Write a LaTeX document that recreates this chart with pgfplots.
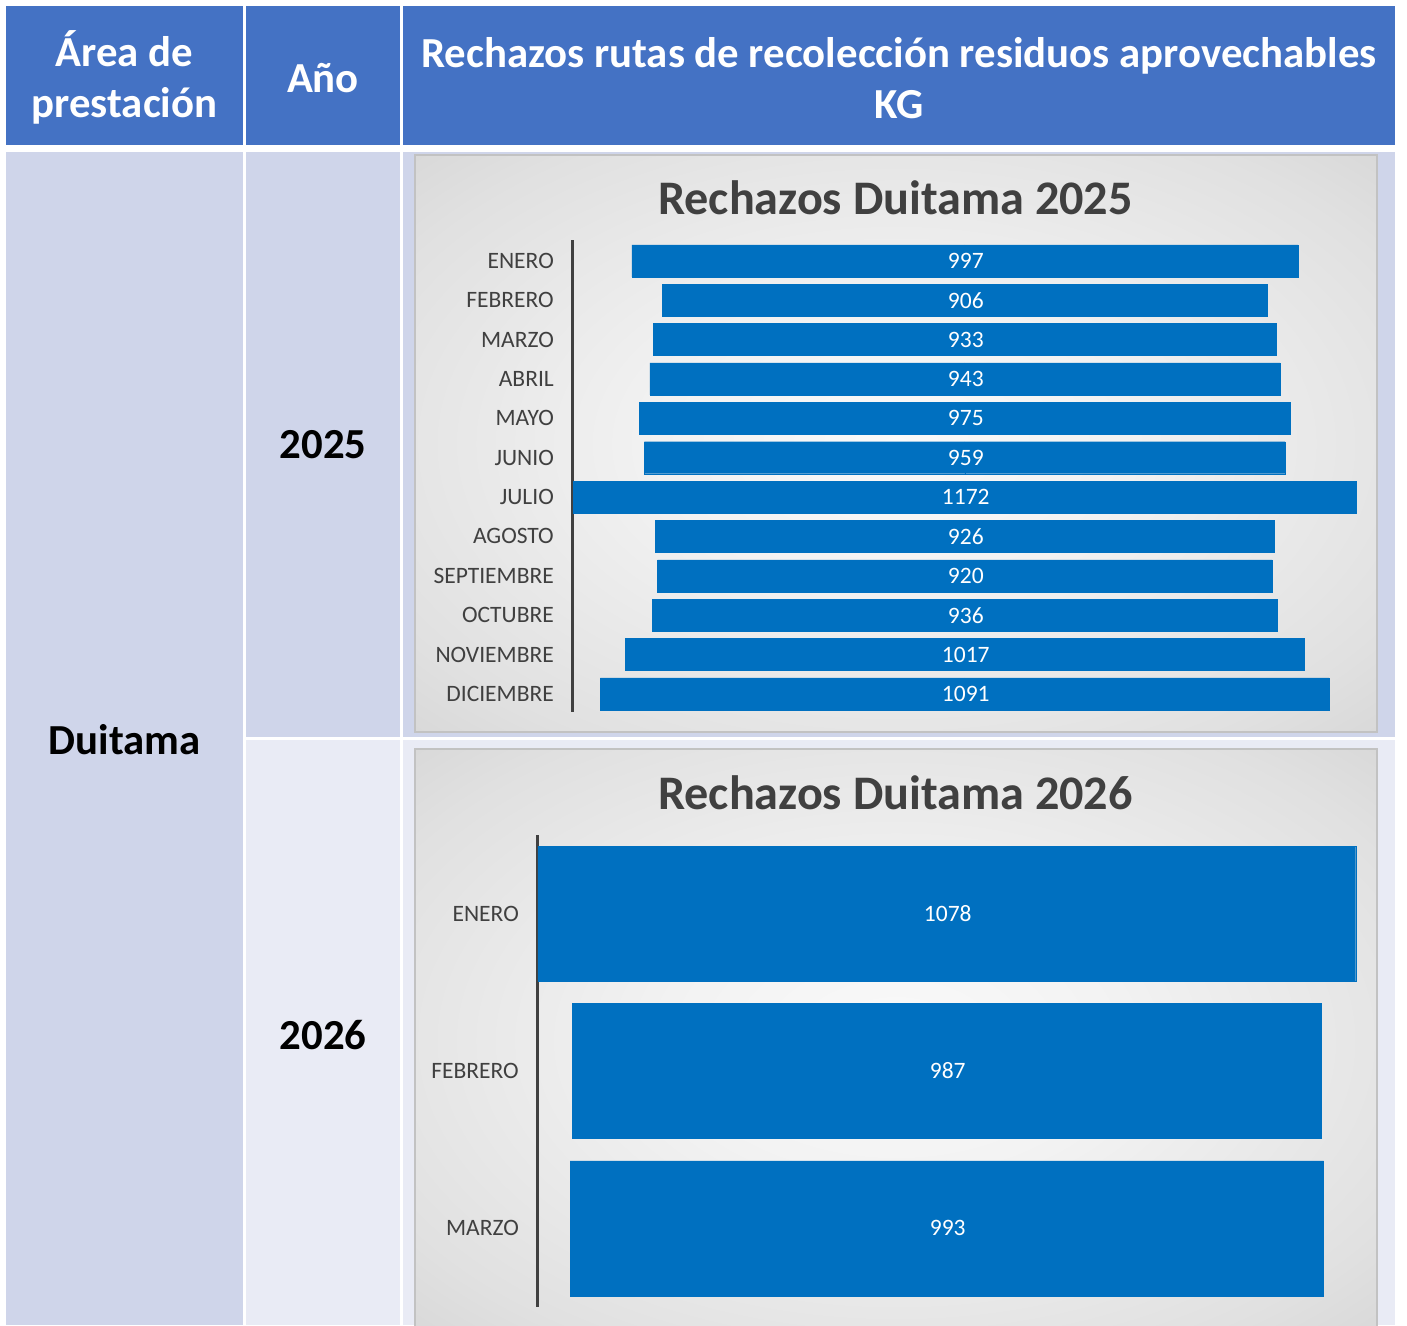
\documentclass[border=0pt]{standalone}
\usepackage{pgfplots}
\usepackage{pgfplotstable}
\pgfplotsset{compat=1.18}
\usepackage{fontspec}
\setmainfont{Carlito}
\definecolor{hdr}{HTML}{4472C4}
\definecolor{rowA}{HTML}{CFD5EA}
\definecolor{rowB}{HTML}{E9EBF5}
\definecolor{barblue}{HTML}{0070C0}
\definecolor{labelgray}{HTML}{404040}
\definecolor{panelborder}{HTML}{C2C2C2}
\pgfdeclareradialshading{panel}{\pgfpoint{0bp}{0bp}}{color(0bp)=(white!98!black); color(12bp)=(white!95!black); color(30bp)=(white!88!black); color(50bp)=(white!77!black); color(71bp)=(white!73!black)}
\newcommand\hdrfont{\fontsize{42.8}{51}\selectfont\bfseries}
\newcommand\titlefont{\fontsize{48.2}{56}\selectfont\bfseries}
\newcommand\catfont{\fontsize{23.5}{28}\selectfont}
\pgfplotstableread{
i v
0 997
1 906
2 933
3 943
4 975
5 959
6 1172
7 926
8 920
9 936
10 1017
11 1091
}\dataA
\pgfplotstableread{
i v
0 1078
1 987
2 993
}\dataB
\begin{document}
\begin{tikzpicture}
\useasboundingbox (0pt,0pt) rectangle (1407pt,-1325pt);
\clip (0pt,0pt) rectangle (1407pt,-1325pt);
\begin{scope}[x=1pt,y=-1pt]
 \fill[white] (0,0) rectangle (1407,1325);
 % header
 \fill[hdr] (6,6) rectangle (243,145);
 \fill[hdr] (246,6) rectangle (400,145);
 \fill[hdr] (403,6) rectangle (1395,145);
 % body
 \fill[rowA] (6,152) rectangle (243,1325);
 \fill[rowA] (246,152) rectangle (400,737);
 \fill[rowB] (246,740) rectangle (400,1325);
 \fill[rowA] (403,152) rectangle (1395,737);
 \fill[rowB] (403,740) rectangle (1395,1325);
 % panels
 \shade[shading=panel] (415,155) rectangle (1377,732);
 \draw[panelborder, line width=2pt] (415,155) rectangle (1377,732);
 \shade[shading=panel] (415,749) rectangle (1377,1332);
 \draw[panelborder, line width=2pt] (415,749) rectangle (1377,1332);
 % header texts
 \node[anchor=base, text=white, font=\hdrfont, inner sep=0pt] at (124.5,66.7) {Área de};
 \node[anchor=base, text=white, font=\hdrfont, inner sep=0pt] at (124.5,117.5) {prestación};
 \node[anchor=base, text=white, font=\hdrfont, inner sep=0pt] at (323,92.5) {Año};
 \node[anchor=base, text=white, font=\hdrfont, inner sep=0pt] at (899,67) {Rechazos rutas de recolección residuos aprovechables};
 \node[anchor=base, text=white, font=\hdrfont, inner sep=0pt] at (899,118) {KG};
 % body texts
 \node[anchor=base, text=black, font=\hdrfont, inner sep=0pt] at (124.5,754) {Duitama};
 \node[anchor=base, text=black, font=\hdrfont, inner sep=0pt] at (323,458.5) {2025};
 \node[anchor=base, text=black, font=\hdrfont, inner sep=0pt] at (323,1049.5) {2026};
 % chart titles
 \node[anchor=base, text=labelgray, font=\titlefont, inner sep=0pt] at (895.5,214) {Rechazos Duitama 2025};
 \node[anchor=base, text=labelgray, font=\titlefont, inner sep=0pt] at (895.5,809.5) {Rechazos Duitama 2026};
\end{scope}
\pgfplotsset{
 funnel/.style={
  scale only axis, anchor=north west,
  y dir=reverse,
  axis x line=none, axis y line*=left,
  y axis line style={draw=labelgray, line width=3pt},
  xtick=\empty, major tick length=0pt,
  yticklabel style={font=\catfont, text=labelgray, inner sep=0pt, xshift=-18pt},
  clip=false,
 },
}
\begin{axis}[funnel,
 at={(572pt,-240pt)}, width=785.6pt, height=472pt,
 xmin=-588, xmax=588, ymin=-0.53, ymax=11.46,
 ytick={0,...,11},
 yticklabels={ENERO,FEBRERO,MARZO,ABRIL,MAYO,JUNIO,JULIO,AGOSTO,SEPTIEMBRE,OCTUBRE,NOVIEMBRE,DICIEMBRE},
]
\addplot[xbar, bar shift=0pt, bar width=32pt, fill=barblue, draw=barblue, line width=0.4pt] table[x expr=\thisrow{v}/2, y=i] {\dataA};
\addplot[xbar, bar shift=0pt, bar width=32pt, fill=barblue, draw=barblue, line width=0.4pt] table[x expr=-\thisrow{v}/2, y=i] {\dataA};
\addplot[draw=none, mark=none, point meta=explicit symbolic,
 nodes near coords={\pgfplotspointmeta},
 every node near coord/.append style={font=\catfont, text=white, anchor=center, inner sep=0pt, xshift=1pt}]
 table[x expr=0, y=i, meta=v] {\dataA};
\end{axis}
\begin{axis}[funnel,
 at={(537pt,-835pt)}, width=819.5pt, height=472pt,
 xmin=-540, xmax=540, ymin=-0.5, ymax=2.5,
 ytick={0,1,2},
 yticklabels={ENERO,FEBRERO,MARZO},
]
\addplot[xbar, bar shift=0pt, bar width=135pt, fill=barblue, draw=barblue, line width=0.4pt] table[x expr=\thisrow{v}/2, y=i] {\dataB};
\addplot[xbar, bar shift=0pt, bar width=135pt, fill=barblue, draw=barblue, line width=0.4pt] table[x expr=-\thisrow{v}/2, y=i] {\dataB};
\addplot[draw=none, mark=none, point meta=explicit symbolic,
 nodes near coords={\pgfplotspointmeta},
 every node near coord/.append style={font=\catfont, text=white, anchor=center, inner sep=0pt, xshift=1pt}]
 table[x expr=0, y=i, meta=v] {\dataB};
\end{axis}
\end{tikzpicture}
\end{document}
